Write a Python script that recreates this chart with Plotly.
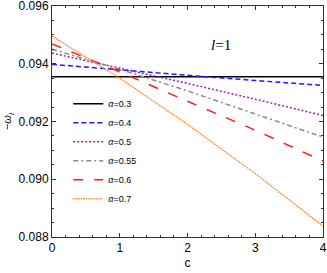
import plotly.graph_objects as go

c_vals = [0, 1, 2, 3, 4]
w_03 = [0.09355, 0.09355, 0.09355, 0.09355, 0.09355]
w_04 = [0.09398, 0.09378, 0.09360, 0.09342, 0.09325]
w_05 = [0.09437, 0.09385, 0.09332, 0.09277, 0.09221]
w_055 = [0.09450, 0.09381, 0.09306, 0.09227, 0.09146]
w_06 = [0.09469, 0.09372, 0.09270, 0.09170, 0.09063]
w_07 = [0.09496, 0.09350, 0.09190, 0.09020, 0.08838]

series = [
    ("0.3", w_03, "#000000", "solid"),
    ("0.4", w_04, "#1a1aff", "5px,3px"),
    ("0.5", w_05, "#9922aa", "2px,2px"),
    ("0.55", w_055, "#888888", "5px,3px,2px,3px"),
    ("0.6", w_06, "#ff1a1a", "10px,11px"),
    ("0.7", w_07, "#ff8c1a", "1.5px,1px"),
]

fig = go.Figure()
for name, ys, col, dash in series:
    fig.add_trace(go.Scatter(
        x=c_vals, y=ys, mode="lines", name="<i>α</i>=" + name,
        line=dict(color=col, width=1.5, dash=dash),
    ))

axis_common = dict(
    showgrid=False, zeroline=False, showline=True, linecolor="#333",
    linewidth=1, mirror="allticks", ticks="inside", ticklen=4,
    tickcolor="#333", automargin=False, ticklabeloverflow="allow",
    tickfont=dict(family="Liberation Sans", size=12, color="#000"),
)
fig.update_xaxes(range=[0, 4], tick0=0, dtick=1,
                 minor=dict(dtick=0.2, ticks="inside", ticklen=2, tickcolor="#333"),
                 title=dict(text="c", standoff=4,
                            font=dict(family="Liberation Sans", size=12, color="#000")),
                 **axis_common)
fig.update_yaxes(range=[0.088, 0.0960001], tick0=0.088, dtick=0.002, tickformat=".3f",
                 minor=dict(dtick=0.0005, ticks="inside", ticklen=2, tickcolor="#333"),
                 title=dict(text="−<i>ω<sub>I</sub></i>", standoff=4,
                            font=dict(family="Liberation Sans", size=11, color="#000")),
                 **axis_common)

fig.update_layout(
    width=327, height=273,
    margin=dict(l=52, r=4, t=6, b=36),
    plot_bgcolor="white", paper_bgcolor="white",
    showlegend=True,
    legend=dict(x=0.06, y=0.64, xanchor="left", yanchor="top",
                bgcolor="rgba(0,0,0,0)",
                font=dict(family="Liberation Sans", size=9, color="#000"),
                itemwidth=30, tracegroupgap=0),
    annotations=[
        dict(text="<i>l</i>=1", x=0.624, y=0.875, xref="paper", yref="paper",
             showarrow=False, font=dict(family="Liberation Serif", size=15, color="#000")),
    ],
)

fig.write_html("out.html", config={"displayModeBar": False},
               post_script="document.body.style.margin='0px';")
